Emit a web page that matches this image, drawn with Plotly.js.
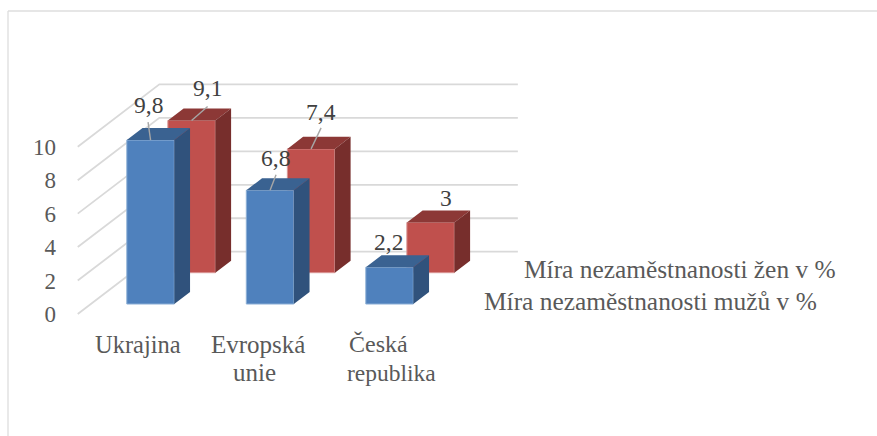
<!DOCTYPE html>
<html><head><meta charset="utf-8">
<script src="https://cdn.plot.ly/plotly-3.0.0.min.js"></script>
<style>html,body{margin:0;padding:0;background:#fff}#c{width:877px;height:436px}</style>
</head><body><div id="c"></div>
<script>
const categories = ['Ukrajina', 'Evropská<br>unie', 'Česká<br>republika'];
const seriesMen = 'Míra nezaměstnanosti mužů v %';
const seriesWomen = 'Míra nezaměstnanosti žen v %';
const men = [9.8, 6.8, 2.2];
const women = [9.1, 7.4, 3];
const yTicks = [0, 2, 4, 6, 8, 10];

// --- projection / layout (separate from data) ---
const W = 877, H = 436, ML = 60, MT = 40, MB = 106;
const PXU = 119.5, PXV = 16.73, X0 = 137.5, Y0 = 314;
const DEPTH_U = 81.6 / PXU, DEPTH_V = 62.3 / PXV;
const BAR_W = 47.5 / PXU, BAR_D = 0.193;
const ROW_MEN = 0.16, ROW_WOMEN = 0.663;
const FONT = '"Liberation Serif", serif', TXT = '#595959', GRID = '#d9d9d9';
const paperX = p => (p - ML) / (W - ML);
const paperY = p => 1 - (p - MT) / (H - MT - MB);

const shapes = [];
// outer chart frame
shapes.push({type:'line',xref:'paper',yref:'paper',x0:paperX(8),x1:paperX(877),y0:paperY(11),y1:paperY(11),line:{color:'#dedede',width:1.3},layer:'below'});
shapes.push({type:'line',xref:'paper',yref:'paper',x0:paperX(8),x1:paperX(8),y0:paperY(11),y1:paperY(436),line:{color:'#dedede',width:1.3},layer:'below'});
// perspective gridlines
yTicks.forEach(v => {
  shapes.push({type:'path',xref:'x',yref:'y',layer:'below',line:{color:GRID,width:1.8},
    path:`M${-0.5},${v} L${-0.5+DEPTH_U},${v+DEPTH_V} L${2.5+DEPTH_U},${v+DEPTH_V}`});
});

function series(name, vals, row, cFront, cTop, cSide, edge) {
  const shiftU = row * DEPTH_U, shiftV = row * DEPTH_V;
  const du = BAR_D * DEPTH_U, dv = BAR_D * DEPTH_V;
  const out = [{
    type:'bar', name, x: vals.map((_, i) => i + shiftU), y: vals,
    base: vals.map(() => shiftV), width: BAR_W,
    marker:{color:cFront, line:{color:edge,width:1}}, hoverinfo:'skip'
  }];
  const fx=[], fy=[], sx=[], sy=[];
  vals.forEach((v, i) => {
    const l = i + shiftU - BAR_W/2, r = l + BAR_W, b = shiftV, t = shiftV + v;
    fx.push(l, r, r+du, l+du, l, null); fy.push(t, t, t+dv, t+dv, t, null);
    sx.push(r, r+du, r+du, r, r, null); sy.push(b, b+dv, t+dv, t, b, null);
  });
  out.push({type:'scatter',mode:'none',x:fx,y:fy,fill:'toself',fillcolor:cTop,showlegend:false,hoverinfo:'skip'});
  out.push({type:'scatter',mode:'none',x:sx,y:sy,fill:'toself',fillcolor:cSide,showlegend:false,hoverinfo:'skip'});
  return out;
}
const traces = [
  ...series(seriesWomen, women, ROW_WOMEN, '#c0504d', '#8c3836', '#772e2c', '#d99694'),
  ...series(seriesMen, men, ROW_MEN, '#4f81bd', '#3a6291', '#30527c', '#8cafd6')
];
// label offsets in pixels relative to front-top centre: [label dx, dy, leader dx, dy]
const menOff = [[-2.5,-35,-2.5,-18],[5.5,-32.5,6,-15.5],[-1,-25,null,null]];
const womenOff = [[16,-32,16,-14],[10,-37,10,-21],[15,-24.5,null,null]];
const annotations = [];
const lx=[], ly=[];
function labels(vals, row, off) {
  vals.forEach((v, i) => {
    const u = i + row*DEPTH_U, t = v + row*DEPTH_V, o = off[i];
    annotations.push({x:u, y:t, xref:'x', yref:'y', xshift:o[0], yshift:-o[1], showarrow:false,
      text:String(v).replace('.', ','), font:{family:FONT,size:23.5,color:'#404040'}, xanchor:'center', yanchor:'middle'});
    if (o[2] !== null) { lx.push(u, u+o[2]/PXU, null); ly.push(t, t-o[3]/PXV, null); }
  });
}
labels(men, ROW_MEN, menOff);
labels(women, ROW_WOMEN, womenOff);
traces.push({type:'scatter',mode:'lines',x:lx,y:ly,line:{color:'#a6a6a6',width:1.4},showlegend:false,hoverinfo:'skip'});

// category labels, one annotation per line: [anchor px, anchor, font size]
const catLeft = [[[138,'center',24.5]],[[257.5,'center',25],[254,'center',25]],[[347,'left',24],[345,'left',23.5]]];
categories.forEach((c, i) => c.split('<br>').forEach((ln, k) => {
  const a = catLeft[i][k];
  annotations.push({xref:'paper',yref:'paper',x:paperX(a[0]),y:paperY(344+k*28.5),text:ln,showarrow:false,
    xanchor:a[1],yanchor:'middle',font:{family:FONT,size:a[2],color:TXT}});
}));
// legend text (no keys visible in the original)
annotations.push({xref:'paper',yref:'paper',x:paperX(522),y:paperY(269),text:seriesWomen,showarrow:false,xanchor:'left',yanchor:'middle',font:{family:FONT,size:25.4,color:TXT}});
annotations.push({xref:'paper',yref:'paper',x:paperX(482),y:paperY(301),text:seriesMen,showarrow:false,xanchor:'left',yanchor:'middle',font:{family:FONT,size:25.4,color:TXT}});

const layout = {
  width:W, height:H, margin:{l:ML,r:0,t:MT,b:MB,pad:0}, paper_bgcolor:'#fff', plot_bgcolor:'rgba(0,0,0,0)',
  barmode:'overlay', showlegend:false, shapes, annotations,
  xaxis:{range:[(ML-X0)/PXU,(W-X0)/PXU],visible:false,fixedrange:true},
  yaxis:{range:[(Y0-(H-MB))/PXV,(Y0-MT)/PXV],tickvals:yTicks,ticktext:yTicks.map(String),showgrid:false,zeroline:false,showline:false,
    ticks:'',ticklabelstandoff:3,tickfont:{family:FONT,size:23,color:TXT},fixedrange:true}
};
Plotly.newPlot('c', traces, layout, {displayModeBar:false, staticPlot:true});
</script></body></html>
